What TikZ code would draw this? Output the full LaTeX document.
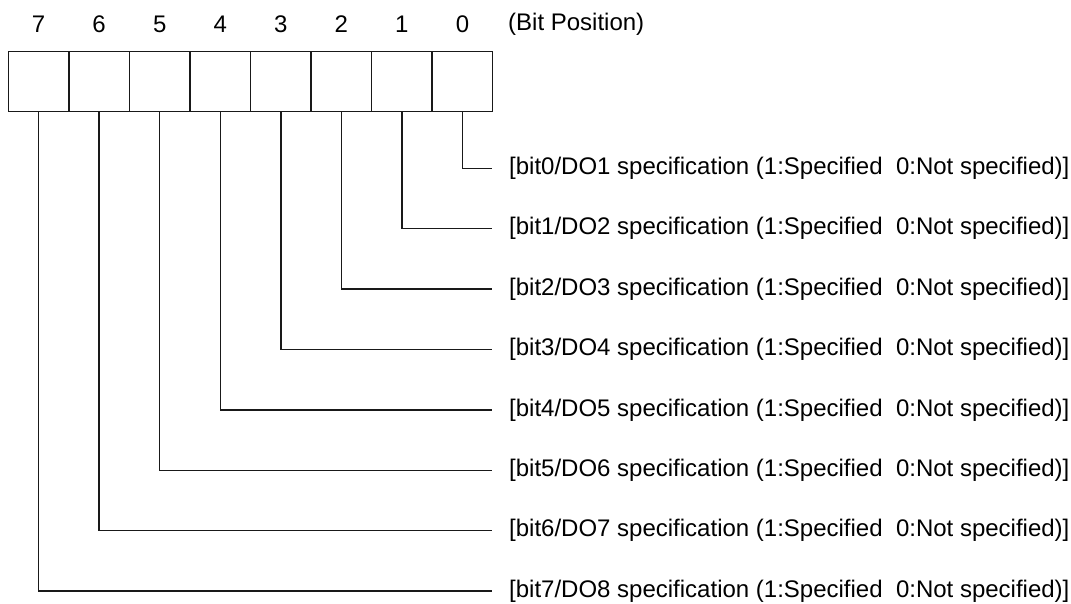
\documentclass[tikz,border=0pt]{standalone}
\usepackage{fontspec}
\setmainfont{Liberation Sans}
\usetikzlibrary{positioning}

\begin{document}
\begin{tikzpicture}[
  x=1pt,y=-1pt,
  cell/.style={draw=black!90,line width=1.5pt,minimum width=60.55pt,
               minimum height=60pt,inner sep=0pt},
  bitnum/.style={font=\fontsize{24}{28}\selectfont,inner sep=0pt},
  desc/.style={font=\fontsize{24}{28}\selectfont,anchor=west,inner sep=0pt},
  wire/.style={line width=1.5pt,draw=black!90,shorten >=17pt}]

  \useasboundingbox (0,0) rectangle (1071,603);

  % register cells, bit 7 on the left
  \foreach \i in {0,...,7} {
    \node[cell] (cell\i) at ({38.6+(7-\i)*60.55},81.7) {};
    \node[bitnum] (num\i) at ({38.6+(7-\i)*60.55},24) {\i};
  }
  \node[desc] (pos) at (508,24) {(Bit Position)};

  % bit descriptions
  \foreach \i [evaluate=\i as \n using int(\i+1)] in {0,...,7} {
    \node[desc] (desc\i) at (509,{168.3+\i*60.4})
      {[bit\i/DO\n\ specification (1:Specified\ \ 0:Not specified)]};
    \draw[wire] (cell\i.south) |- (desc\i.west);
  }
\end{tikzpicture}
\end{document}
